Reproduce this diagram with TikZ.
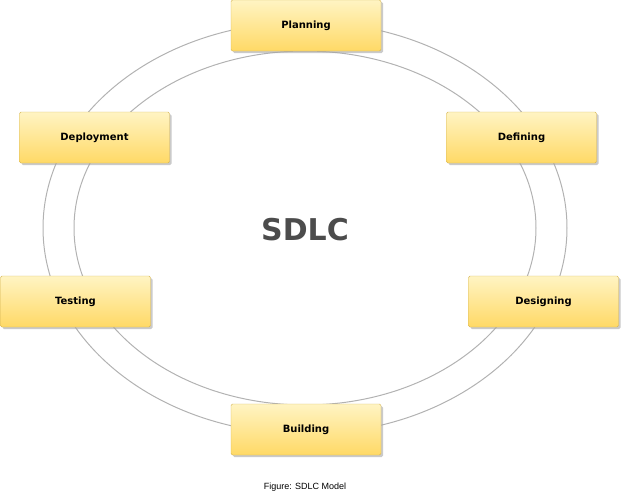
\documentclass[tikz,border=0pt]{standalone}
\usepackage{fontspec}
\setmainfont{DejaVu Sans}
\usetikzlibrary{shadows}
\definecolor{ytop}{HTML}{FFF4C3}
\definecolor{ybot}{HTML}{FFD966}
\definecolor{yline}{HTML}{D6B656}
\tikzset{
  phase/.style={draw=yline, rounded corners=1.5pt, minimum width=150pt, minimum height=51pt,
    top color=ytop, bottom color=ybot, font=\bfseries\fontsize{10}{12}\selectfont,
    drop shadow={shadow xshift=2pt, shadow yshift=-2pt, fill=black!35, opacity=0.6}},
  ring/.style={draw=black!30, line width=1pt}
}
\begin{document}
\begin{tikzpicture}[x=1pt,y=-1pt]
\useasboundingbox (0,0) rectangle (622,501);
\draw[ring] (305,228) ellipse [x radius=262, y radius=206];
\draw[ring] (305,228) ellipse [x radius=231, y radius=177];
\node[phase] (plan) at (306,25.5) {Planning};
\node[phase] (def) at (521.5,137.5) {Defining};
\node[phase] (des) at (543.5,301.5) {Designing};
\node[phase] (build) at (306,429.5) {Building};
\node[phase] (test) at (75.5,301.5) {Testing};
\node[phase] (dep) at (94.5,137.5) {Deployment};
\node[font=\bfseries\fontsize{30}{36}\selectfont, text=black!70] (sdlc) at (305,230) {SDLC};
\node[font=\fontsize{9}{11}\selectfont\sffamily] (cap) at (305,487) {\setmainfont{Liberation Sans}\rmfamily Figure: SDLC Model};
\end{tikzpicture}
\end{document}
